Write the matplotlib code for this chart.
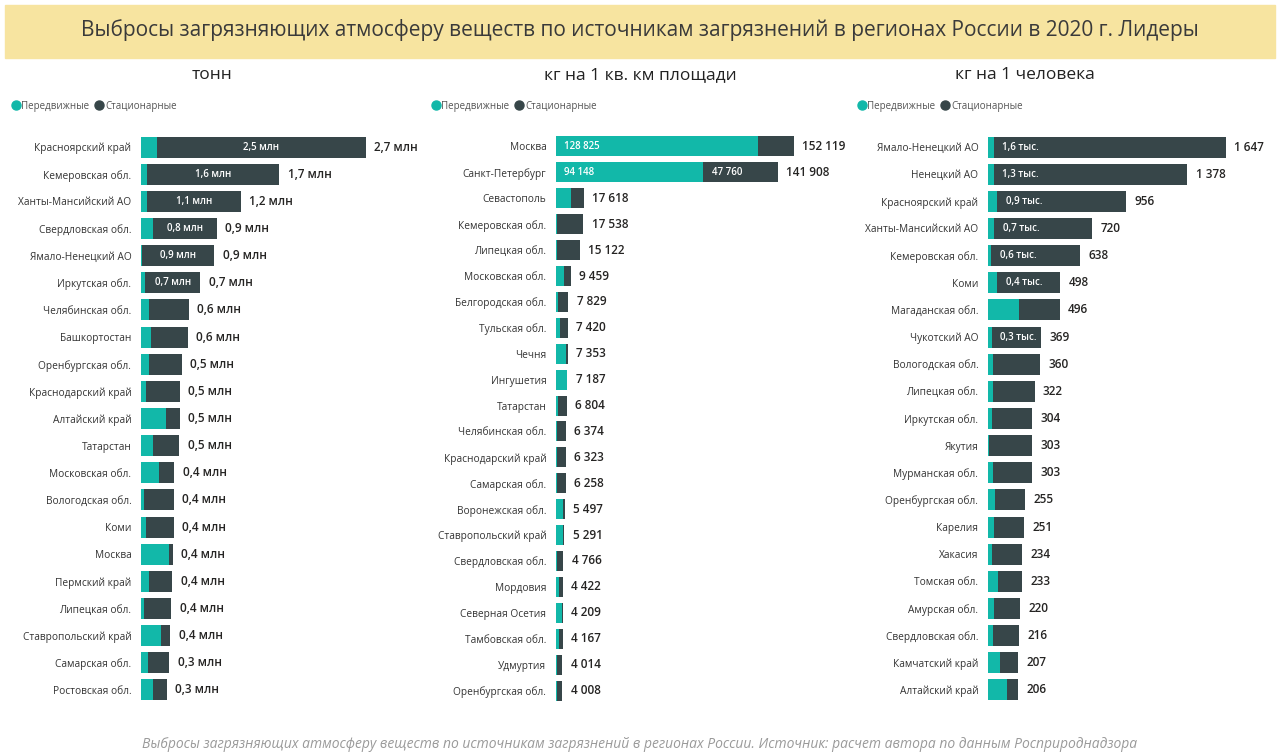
import matplotlib.pyplot as plt
from matplotlib.lines import Line2D
from matplotlib.patches import Rectangle

plt.rcParams['font.family'] = ['Open Sans', 'DejaVu Sans']

TEAL = '#12B8A9'
DARK = '#374649'

# --- тонн (млн т) ---
tonn_regions = ['Красноярский край', 'Кемеровская обл.', 'Ханты-Мансийский АО', 'Свердловская обл.',
                'Ямало-Ненецкий АО', 'Иркутская обл.', 'Челябинская обл.', 'Башкортостан',
                'Оренбургская обл.', 'Краснодарский край', 'Алтайский край', 'Татарстан',
                'Московская обл.', 'Вологодская обл.', 'Коми', 'Москва', 'Пермский край',
                'Липецкая обл.', 'Ставропольский край', 'Самарская обл.', 'Ростовская обл.']
tonn_mobile = [0.19, 0.07, 0.07, 0.14, 0.01, 0.05, 0.10, 0.12, 0.09, 0.06, 0.30,
               0.14, 0.22, 0.04, 0.055, 0.33, 0.10, 0.04, 0.24, 0.08, 0.14]
tonn_stationary = [2.51, 1.59, 1.13, 0.77, 0.87, 0.66, 0.47, 0.44, 0.40, 0.41, 0.165,
                   0.32, 0.18, 0.355, 0.335, 0.05, 0.275, 0.325, 0.112, 0.26, 0.17]

# --- кг на 1 кв. км площади ---
area_regions = ['Москва', 'Санкт-Петербург', 'Севастополь', 'Кемеровская обл.', 'Липецкая обл.',
                'Московская обл.', 'Белгородская обл.', 'Тульская обл.', 'Чечня', 'Ингушетия',
                'Татарстан', 'Челябинская обл.', 'Краснодарский край', 'Самарская обл.',
                'Воронежская обл.', 'Ставропольский край', 'Свердловская обл.', 'Мордовия',
                'Северная Осетия', 'Тамбовская обл.', 'Удмуртия', 'Оренбургская обл.']
area_mobile = [128825, 94148, 9600, 450, 600, 4800, 1000, 2400, 6600, 6900, 1000,
               700, 650, 700, 4700, 4600, 500, 2000, 3700, 1800, 500, 400]
area_stationary = [23294, 47760, 8018, 17088, 14522, 4659, 6829, 5020, 753, 287, 5804,
                   5674, 5673, 5558, 797, 691, 4266, 2422, 509, 2367, 3514, 3608]

# --- кг на 1 человека ---
person_regions = ['Ямало-Ненецкий АО', 'Ненецкий АО', 'Красноярский край', 'Ханты-Мансийский АО',
                  'Кемеровская обл.', 'Коми', 'Магаданская обл.', 'Чукотский АО', 'Вологодская обл.',
                  'Липецкая обл.', 'Иркутская обл.', 'Якутия', 'Мурманская обл.', 'Оренбургская обл.',
                  'Карелия', 'Хакасия', 'Томская обл.', 'Амурская обл.', 'Свердловская обл.',
                  'Камчатский край', 'Алтайский край']
person_mobile = [40, 42, 65, 44, 23, 64, 212, 25, 32, 37, 28, 5, 32, 46, 42, 25, 67, 44, 35, 83, 129]
person_stationary = [1607, 1336, 891, 676, 615, 434, 284, 344, 328, 285, 276, 298, 271, 209,
                     209, 209, 166, 176, 181, 124, 77]


def fmt_mln(v):
    return f'{v:.1f}'.replace('.', ',') + ' млн'


def fmt_int(v):
    return f'{int(round(v)):,}'.replace(',', ' ')


def fmt_thousand(v):
    return f'{v / 1000:.1f}'.replace('.', ',') + ' тыс.'


def draw_panel(ax, regions, mobile, stationary, xmax, fmt_total, fmt_inside, min_inside,
               label_mobile=False, centered=False):
    n = len(regions)
    y = list(range(n))
    ax.barh(y, mobile, height=0.77, color=TEAL)
    ax.barh(y, stationary, left=mobile, height=0.77, color=DARK)
    for i in range(n):
        total = mobile[i] + stationary[i]
        ax.annotate(fmt_total(total), (total, i), xytext=(6, 0), textcoords='offset points',
                    va='center', ha='left', fontsize=8.5, fontweight='semibold', color='#252423')
        if stationary[i] >= min_inside:
            if centered:
                ax.text(mobile[i] + stationary[i] / 2, i, fmt_inside(stationary[i]),
                        ha='center', va='center', fontsize=7, fontweight='semibold', color='white')
            else:
                ax.annotate(fmt_inside(stationary[i]), (mobile[i], i), xytext=(6, 0),
                            textcoords='offset points', va='center', ha='left',
                            fontsize=7, fontweight='semibold', color='white')
        if label_mobile and mobile[i] >= min_inside:
            ax.annotate(fmt_inside(mobile[i]), (0, i), xytext=(6, 0),
                        textcoords='offset points', va='center', ha='left',
                        fontsize=7, fontweight='semibold', color='white')
    ax.set_xlim(0, xmax)
    ax.set_ylim(n - 0.5, -0.5)
    ax.set_yticks(y, regions)
    ax.tick_params(axis='y', length=0, pad=7, labelsize=7.3, labelcolor='#333333')
    ax.set_xticks([])
    for s in ax.spines.values():
        s.set_visible(False)


fig = plt.figure(figsize=(12.8, 7.55), dpi=100)
W, H = 1280, 755

# title band
fig.patches.append(Rectangle((5 / W, 1 - 58 / H), 1270 / W, 53 / H, transform=fig.transFigure,
                             color='#F7E4A0', zorder=0))
fig.text(0.5, 1 - 30 / H, 'Выбросы загрязняющих атмосферу веществ по источникам загрязнений в регионах России в 2020 г. Лидеры',
         ha='center', va='center', fontsize=15, color='#3a3a3a')

bottom = 1 - 703.5 / H
height = 570 / H

ax1 = fig.add_axes([141 / W, bottom, 280 / W, height])
draw_panel(ax1, tonn_regions, tonn_mobile, tonn_stationary, 3.36, fmt_mln, fmt_mln, 0.6,
           centered=True)

ax2 = fig.add_axes([556 / W, bottom, 290 / W, height])
draw_panel(ax2, area_regions, area_mobile, area_stationary, 185355, fmt_int, fmt_int, 30000,
           label_mobile=True)

ax3 = fig.add_axes([988 / W, bottom, 280 / W, height])
draw_panel(ax3, person_regions, person_mobile, person_stationary, 1937, fmt_int, fmt_thousand, 340)

subtitles = ['тонн', 'кг на 1 кв. км площади', 'кг на 1 человека']
for x, t in zip([212, 640, 1025], subtitles):
    fig.text(x / W, 1 - 75 / H, t, ha='center', va='center', fontsize=12.5, color='#222222')

handles = [Line2D([], [], marker='o', ls='', color=TEAL, markersize=6.5),
           Line2D([], [], marker='o', ls='', color=DARK, markersize=6.5)]
for x in [1, 421, 847]:
    fig.legend(handles, ['Передвижные', 'Стационарные'], loc='upper left',
               bbox_to_anchor=(x / W, 1 - 92 / H), ncol=2, frameon=False, fontsize=7,
               handletextpad=0.0, columnspacing=0.4, handlelength=1.2, labelcolor='#555555')

fig.text(0.5, 1 - 744 / H,
         'Выбросы загрязняющих атмосферу веществ по источникам загрязнений в регионах России. Источник: расчет автора по данным Росприроднадзора',
         ha='center', va='center', fontsize=10, style='italic', color='#9a9a9a')

fig.savefig('out.png', dpi=100)
